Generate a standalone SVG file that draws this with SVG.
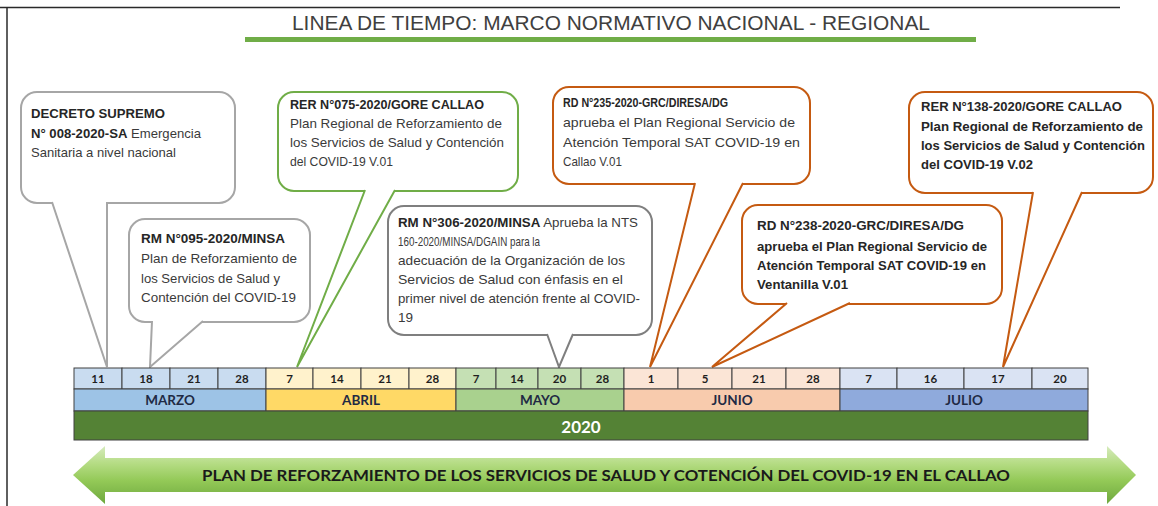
<svg xmlns="http://www.w3.org/2000/svg" width="1158" height="506" viewBox="0 0 1158 506">
<style>
.bx{fill:#fff;stroke-width:2}
.gray{stroke:#a6a6a6}
.dgray{stroke:#7f7f7f}
.green{stroke:#70ad47}
.orange{stroke:#c55a11}
.t{font-family:"Liberation Sans",Arial,sans-serif;font-size:13.5px;fill:#3a3a3a}
.b{font-weight:bold;fill:#262626}
.day{font-family:Lato,"Open Sans",sans-serif;font-weight:bold;font-size:11.5px;fill:#1f1f1f;text-anchor:middle}
.mon{font-family:Lato,"Open Sans",sans-serif;font-weight:bold;font-size:13.5px;fill:#1f2a44;text-anchor:middle}
.cell{stroke:#404040;stroke-width:1}
.tail{fill:#fff;stroke-width:2;stroke-linejoin:miter}
</style>
<defs>
<linearGradient id="arrowGrad" x1="0" y1="446" x2="0" y2="504" gradientUnits="userSpaceOnUse">
<stop offset="0" stop-color="#d6ebbd"/>
<stop offset="0.3" stop-color="#b5dc84"/>
<stop offset="0.6" stop-color="#93c957"/>
<stop offset="1" stop-color="#6ea83e"/>
</linearGradient>
</defs>
<rect width="1158" height="506" fill="#fff"/>
<g id="frame">
<line x1="0" y1="7.5" x2="1120" y2="7.5" stroke="#2a2a2a" stroke-width="1.5"/>
<line x1="7" y1="7" x2="7" y2="506" stroke="#2a2a2a" stroke-width="1.5"/>
</g>
<g id="title">
<text x="292" y="30" textLength="638" lengthAdjust="spacingAndGlyphs" font-family="Liberation Sans, Arial, sans-serif" font-size="21" fill="#404040">LINEA DE TIEMPO: MARCO NORMATIVO NACIONAL - REGIONAL</text>
<rect x="245" y="37" width="731" height="5" fill="#70ad47"/>
</g>
<g id="callout-ds008">
<rect class="bx gray" x="21" y="92" width="214" height="111" rx="16"/>
<text class="t b" x="31" y="118" textLength="134" lengthAdjust="spacingAndGlyphs">DECRETO SUPREMO</text>
<text class="t" x="31" y="138" textLength="170" lengthAdjust="spacingAndGlyphs"><tspan class="b">N° 008-2020-SA</tspan> Emergencia</text>
<text class="t" x="31" y="157" textLength="145" lengthAdjust="spacingAndGlyphs">Sanitaria a nivel nacional</text>
</g>
<g id="callout-rm095">
<rect class="bx gray" x="129" y="219" width="181" height="103" rx="16"/>
<text class="t b" x="141" y="243" textLength="144" lengthAdjust="spacingAndGlyphs">RM N°095-2020/MINSA</text>
<text class="t" x="141" y="263" textLength="156" lengthAdjust="spacingAndGlyphs">Plan de Reforzamiento de</text>
<text class="t" x="141" y="283" textLength="139" lengthAdjust="spacingAndGlyphs">los Servicios de Salud y</text>
<text class="t" x="141" y="302" textLength="155" lengthAdjust="spacingAndGlyphs">Contención del COVID-19</text>
</g>
<g id="callout-rer075">
<rect class="bx green" x="278" y="92" width="240" height="99" rx="16"/>
<text class="t b" x="290" y="109" textLength="194" lengthAdjust="spacingAndGlyphs">RER N°075-2020/GORE CALLAO</text>
<text class="t" x="290" y="128" textLength="212" lengthAdjust="spacingAndGlyphs">Plan Regional de Reforzamiento de</text>
<text class="t" x="290" y="147" textLength="214" lengthAdjust="spacingAndGlyphs">los Servicios de Salud y Contención</text>
<text class="t" x="290" y="166" textLength="103" lengthAdjust="spacingAndGlyphs">del COVID-19 V.01</text>
</g>
<g id="callout-rm306">
<rect class="bx dgray" x="388" y="206" width="264" height="129" rx="16"/>
<text class="t" x="398" y="227" textLength="240" lengthAdjust="spacingAndGlyphs"><tspan class="b">RM N°306-2020/MINSA</tspan> Aprueba la NTS</text>
<text class="t" x="398" y="246" textLength="142" lengthAdjust="spacingAndGlyphs">160-2020/MINSA/DGAIN para la</text>
<text class="t" x="398" y="265" textLength="227" lengthAdjust="spacingAndGlyphs">adecuación de la Organización de los</text>
<text class="t" x="398" y="284" textLength="225" lengthAdjust="spacingAndGlyphs">Servicios de Salud con énfasis en el</text>
<text class="t" x="398" y="303" textLength="242" lengthAdjust="spacingAndGlyphs">primer nivel de atención frente al COVID-</text>
<text class="t" x="398" y="322">19</text>
</g>
<g id="callout-rd235">
<rect class="bx orange" x="553" y="87" width="257" height="97" rx="16"/>
<text class="t b" x="563" y="107" textLength="165" lengthAdjust="spacingAndGlyphs">RD N°235-2020-GRC/DIRESA/DG</text>
<text class="t" x="563" y="127" textLength="232" lengthAdjust="spacingAndGlyphs">aprueba el Plan Regional Servicio de</text>
<text class="t" x="563" y="147" textLength="237" lengthAdjust="spacingAndGlyphs">Atención Temporal SAT COVID-19 en</text>
<text class="t" x="563" y="166" textLength="59" lengthAdjust="spacingAndGlyphs">Callao V.01</text>
</g>
<g id="callout-rd238">
<rect class="bx orange" x="742" y="205" width="260" height="99" rx="16"/>
<text class="t b" x="757" y="230" textLength="207" lengthAdjust="spacingAndGlyphs">RD N°238-2020-GRC/DIRESA/DG</text>
<text class="t b" x="757" y="251" textLength="230" lengthAdjust="spacingAndGlyphs">aprueba el Plan Regional Servicio de</text>
<text class="t b" x="757" y="270" textLength="229" lengthAdjust="spacingAndGlyphs">Atención Temporal SAT COVID-19 en</text>
<text class="t b" x="757" y="289" textLength="91" lengthAdjust="spacingAndGlyphs">Ventanilla V.01</text>
</g>
<g id="callout-rer138">
<rect class="bx orange" x="909" y="92" width="244" height="101" rx="16"/>
<text class="t b" x="921" y="111" textLength="201" lengthAdjust="spacingAndGlyphs">RER N°138-2020/GORE CALLAO</text>
<text class="t b" x="921" y="131" textLength="222" lengthAdjust="spacingAndGlyphs">Plan Regional de Reforzamiento de</text>
<text class="t b" x="921" y="150" textLength="224" lengthAdjust="spacingAndGlyphs">los Servicios de Salud y Contención</text>
<text class="t b" x="921" y="169" textLength="112" lengthAdjust="spacingAndGlyphs">del COVID-19 V.02</text>
</g>
<g id="connectors">
<path class="tail gray" d="M52,202 L107,367 L107,202"/>
<path class="tail gray" d="M152,321 L150,367 L203,321"/>
<path class="tail green" d="M365,190 L297,367 L395,190"/>
<path class="tail dgray" d="M547,334 L559,367 L573,334"/>
<path class="tail orange" d="M695,183 L650,367 L743,183"/>
<path class="tail orange" d="M787,303 L712,367 L850,303"/>
<path class="tail orange" d="M1033,192 L1003,367 L1082,192"/>
</g>
<g id="timeline">
<g class="cell">
<rect x="74" y="368" width="48" height="21" fill="#c9dcf0"/>
<rect x="122" y="368" width="48" height="21" fill="#c9dcf0"/>
<rect x="170" y="368" width="48" height="21" fill="#c9dcf0"/>
<rect x="218" y="368" width="48" height="21" fill="#c9dcf0"/>
<rect x="266" y="368" width="47" height="21" fill="#fff2cc"/>
<rect x="313" y="368" width="48" height="21" fill="#fff2cc"/>
<rect x="361" y="368" width="48" height="21" fill="#fff2cc"/>
<rect x="409" y="368" width="47" height="21" fill="#fff2cc"/>
<rect x="456" y="368" width="40" height="21" fill="#c5e0b4"/>
<rect x="496" y="368" width="42" height="21" fill="#c5e0b4"/>
<rect x="538" y="368" width="43" height="21" fill="#c5e0b4"/>
<rect x="581" y="368" width="43" height="21" fill="#c5e0b4"/>
<rect x="624" y="368" width="54" height="21" fill="#fbe5d6"/>
<rect x="678" y="368" width="54" height="21" fill="#fbe5d6"/>
<rect x="732" y="368" width="54" height="21" fill="#fbe5d6"/>
<rect x="786" y="368" width="54" height="21" fill="#fbe5d6"/>
<rect x="840" y="368" width="57" height="21" fill="#dae3f3"/>
<rect x="897" y="368" width="67" height="21" fill="#dae3f3"/>
<rect x="964" y="368" width="68" height="21" fill="#dae3f3"/>
<rect x="1032" y="368" width="56" height="21" fill="#dae3f3"/>
<rect x="74" y="389" width="192" height="22" fill="#9dc3e6"/>
<rect x="266" y="389" width="190" height="22" fill="#ffd966"/>
<rect x="456" y="389" width="168" height="22" fill="#a9d18e"/>
<rect x="624" y="389" width="216" height="22" fill="#f8cbad"/>
<rect x="840" y="389" width="248" height="22" fill="#8faadc"/>
<rect x="74" y="411" width="1014" height="29" fill="#548235"/>
</g>
<text class="day" x="98" y="383">11</text>
<text class="day" x="146" y="383">18</text>
<text class="day" x="194" y="383">21</text>
<text class="day" x="242" y="383">28</text>
<text class="day" x="289.5" y="383">7</text>
<text class="day" x="337" y="383">14</text>
<text class="day" x="385" y="383">21</text>
<text class="day" x="432.5" y="383">28</text>
<text class="day" x="476" y="383">7</text>
<text class="day" x="517" y="383">14</text>
<text class="day" x="559.5" y="383">20</text>
<text class="day" x="602.5" y="383">28</text>
<text class="day" x="651" y="383">1</text>
<text class="day" x="705" y="383">5</text>
<text class="day" x="759" y="383">21</text>
<text class="day" x="813" y="383">28</text>
<text class="day" x="868.5" y="383">7</text>
<text class="day" x="930.5" y="383">16</text>
<text class="day" x="998" y="383">17</text>
<text class="day" x="1060" y="383">20</text>
<text class="mon" x="170" y="405">MARZO</text>
<text class="mon" x="361" y="405">ABRIL</text>
<text class="mon" x="540" y="405">MAYO</text>
<text class="mon" x="732" y="405">JUNIO</text>
<text class="mon" x="964" y="405">JULIO</text>
<text x="581" y="433" text-anchor="middle" font-family="Lato, 'Open Sans', sans-serif" font-weight="bold" font-size="17" fill="#ffffff">2020</text>
</g>
<g id="plan-arrow">
<path d="M73,475 L105,446 L105,458 L1107,458 L1107,446 L1136,475 L1107,504 L1107,492 L105,492 L105,504 Z" fill="url(#arrowGrad)"/>
<text x="202" y="480.5" textLength="808" lengthAdjust="spacingAndGlyphs" font-family="Lato, 'Open Sans', sans-serif" font-weight="bold" font-size="15" fill="#1a1a1a">PLAN DE REFORZAMIENTO DE LOS SERVICIOS DE SALUD Y COTENCIÓN DEL COVID-19 EN EL CALLAO</text>
</g>
</svg>
